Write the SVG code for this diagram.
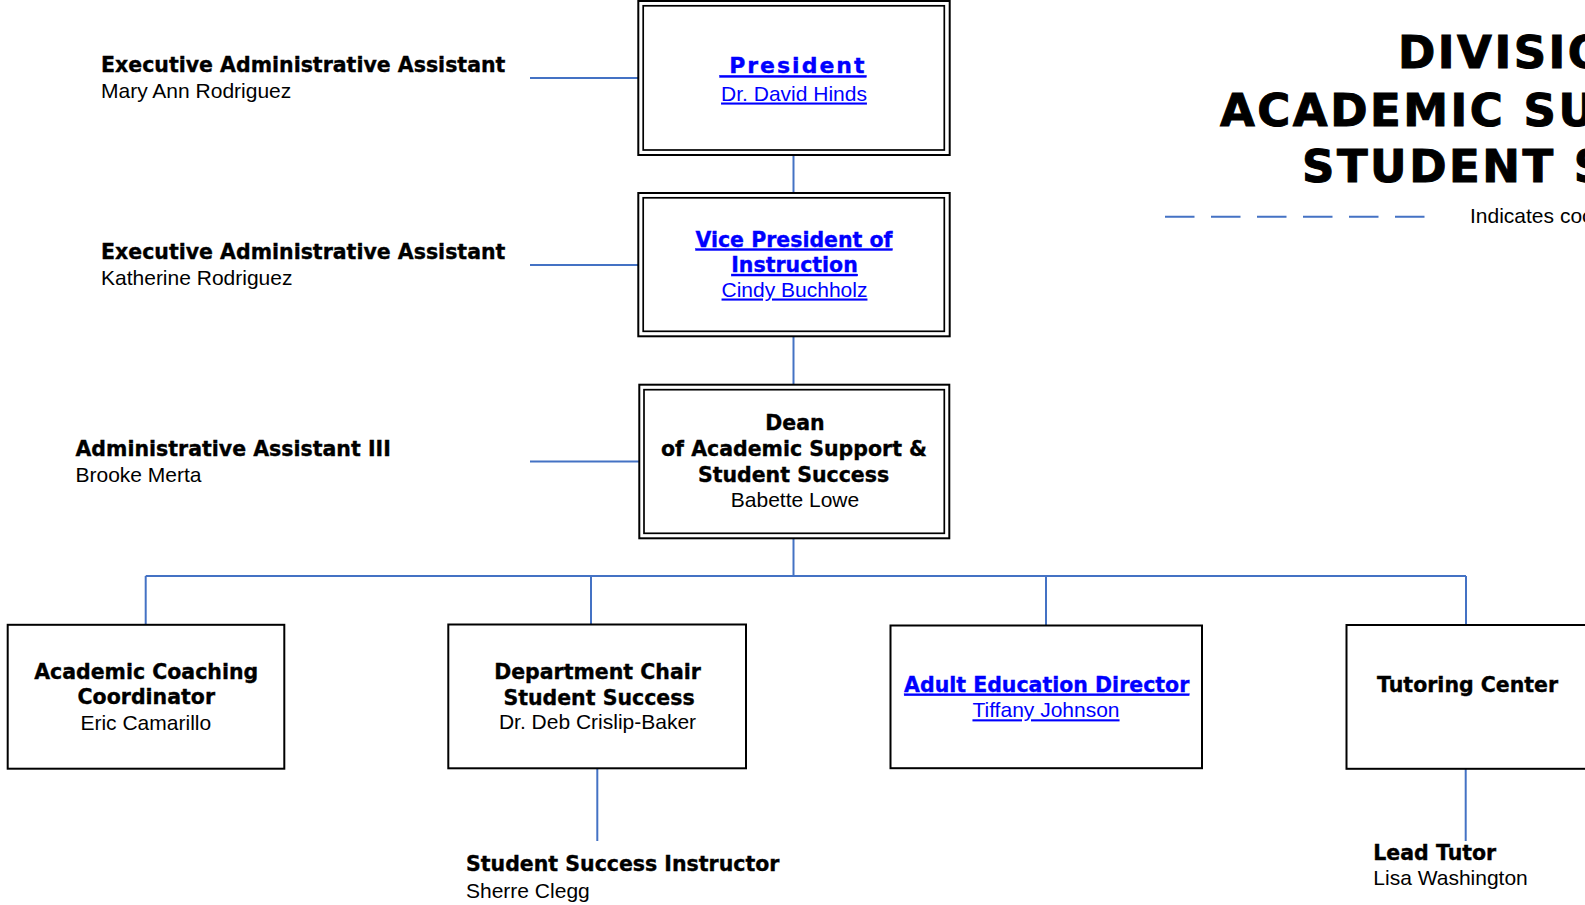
<svg xmlns="http://www.w3.org/2000/svg" width="1585" height="905" viewBox="0 0 1585 905">
<style>
.h{font-family:"DejaVu Sans",sans-serif;font-weight:bold;font-size:20.5px;fill:#000;stroke:#000;stroke-width:0.35}
.r{font-family:"Liberation Sans",Arial,sans-serif;font-size:21px;fill:#000}
.lnk{fill:#0000ff;stroke:none;text-decoration:underline}
.h.lnk{stroke:#0000ff}
.c{text-anchor:middle}
.title{font-family:"DejaVu Sans",sans-serif;font-weight:bold;font-size:45px;letter-spacing:2.5px;fill:#000;stroke:#000;stroke-width:1}
.box{fill:#fff;stroke:#000;stroke-width:2}
.inner{fill:none;stroke:#000;stroke-width:1.7}
.conn{fill:none;stroke:#4472c4;stroke-width:2}
</style>
<rect width="1585" height="905" fill="#fff"/>

<g id="connectors">
<line class="conn" x1="530" y1="78" x2="638" y2="78"/>
<line class="conn" x1="530" y1="265" x2="638" y2="265"/>
<line class="conn" x1="530" y1="461.5" x2="639" y2="461.5"/>
<line class="conn" x1="793.5" y1="155" x2="793.5" y2="193"/>
<line class="conn" x1="793.5" y1="336" x2="793.5" y2="385"/>
<line class="conn" x1="793.5" y1="538" x2="793.5" y2="576"/>
<line class="conn" x1="145.7" y1="576" x2="1466" y2="576"/>
<line class="conn" x1="145.7" y1="576" x2="145.7" y2="625"/>
<line class="conn" x1="591" y1="576" x2="591" y2="625"/>
<line class="conn" x1="1046" y1="576" x2="1046" y2="625"/>
<line class="conn" x1="1466" y1="576" x2="1466" y2="625"/>
<line class="conn" x1="597.3" y1="768" x2="597.3" y2="841"/>
<line class="conn" x1="1465.7" y1="769" x2="1465.7" y2="841"/>
</g>

<g id="title">
<text class="title" x="1398" y="67.7">DIVISION OF</text>
<text class="title" x="1220" y="125.7">ACADEMIC SUPPORT &amp;</text>
<text class="title" x="1302" y="182.3">STUDENT SUCCESS</text>
</g>

<g id="legend">
<line x1="1165" y1="216.7" x2="1430" y2="216.7" stroke="#4472c4" stroke-width="2" stroke-dasharray="29.5 16.5"/>
<text class="r" x="1470" y="223.3">Indicates coordination</text>
</g>

<g id="exec-assistant-1">
<text class="h" x="101" y="72">Executive Administrative Assistant</text>
<text class="r" x="101" y="98">Mary Ann Rodriguez</text>
</g>
<g id="exec-assistant-2">
<text class="h" x="101" y="259.3">Executive Administrative Assistant</text>
<text class="r" x="101" y="285">Katherine Rodriguez</text>
</g>
<g id="admin-assistant-3">
<text class="h" x="75.5" y="456">Administrative Assistant III</text>
<text class="r" x="75.5" y="481.5">Brooke Merta</text>
</g>

<g id="president">
<rect class="box" x="638.3" y="1" width="311.4" height="154"/>
<rect class="inner" x="643.2" y="5.8" width="301.1" height="144.2"/>
<text class="h lnk c" x="793" y="73.3" style="font-size:22px;letter-spacing:2px" xml:space="preserve"> President</text>
<text class="r lnk c" x="794" y="100.5">Dr. David Hinds</text>
</g>

<g id="vice-president">
<rect class="box" x="638.3" y="193" width="311.4" height="143.3"/>
<rect class="inner" x="643.2" y="197.8" width="301.1" height="133.5"/>
<text class="h lnk c" x="794" y="246.5">Vice President of</text>
<text class="h lnk c" x="794.5" y="272">Instruction</text>
<text class="r lnk c" x="794.5" y="296.5">Cindy Buchholz</text>
</g>

<g id="dean">
<rect class="box" x="639.3" y="384.7" width="310" height="153.6"/>
<rect class="inner" x="644" y="389.7" width="300.3" height="143.6"/>
<text class="h c" x="795" y="430">Dean</text>
<text class="h c" x="794" y="455.7">of Academic Support &amp;</text>
<text class="h c" x="793.5" y="482">Student Success</text>
<text class="r c" x="795" y="507">Babette Lowe</text>
</g>

<g id="academic-coaching">
<rect class="box" x="7.7" y="624.8" width="276.6" height="143.9"/>
<text class="h c" x="146.2" y="679">Academic Coaching</text>
<text class="h c" x="146.3" y="704.3">Coordinator</text>
<text class="r c" x="145.8" y="730.3">Eric Camarillo</text>
</g>

<g id="department-chair">
<rect class="box" x="448.3" y="624.5" width="297.7" height="143.8"/>
<text class="h c" x="597.5" y="679.3">Department Chair</text>
<text class="h c" x="599" y="704.7">Student Success</text>
<text class="r c" x="597.5" y="729.3">Dr. Deb Crislip-Baker</text>
</g>

<g id="adult-education">
<rect class="box" x="890.5" y="625.5" width="311.5" height="142.7"/>
<text class="h lnk c" x="1046.7" y="691.7">Adult Education Director</text>
<text class="r lnk c" x="1046" y="717.3">Tiffany Johnson</text>
</g>

<g id="tutoring-center">
<rect class="box" x="1346.5" y="625" width="250" height="143.8"/>
<text class="h c" x="1467.6" y="691.7">Tutoring Center</text>
</g>

<g id="student-success-instructor">
<text class="h" x="466" y="871">Student Success Instructor</text>
<text class="r" x="466" y="897.5">Sherre Clegg</text>
</g>

<g id="lead-tutor">
<text class="h" x="1373.3" y="860">Lead Tutor</text>
<text class="r" x="1373.3" y="884.5">Lisa Washington</text>
</g>
</svg>
